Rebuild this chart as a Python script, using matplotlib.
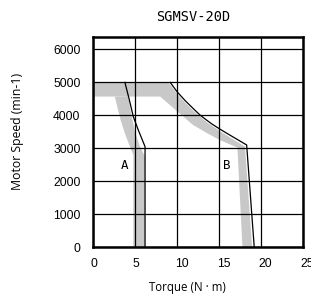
import matplotlib
matplotlib.use('Agg')
import matplotlib.pyplot as plt
from matplotlib.transforms import ScaledTranslation

# curve A (black line) and curve B (black line)
a_torque = [3.8, 4.3, 4.8, 5.4, 6.2, 6.2]
a_speed = [5000, 4500, 3960, 3550, 3050, 0]
b_torque = [9.2, 10.0, 11.0, 12.0, 12.74, 13.5, 14.2, 15.0, 16.0, 17.0, 18.3, 19.2]
b_speed = [5000, 4720, 4440, 4190, 4010, 3860, 3730, 3600, 3445, 3295, 3100, 0]

# gray bands (outline of each band)
band_b_torque = [0, 9.0, 10.0, 11.0, 12.0, 13.5, 15.0, 16.5, 18.1, 18.95,
                 17.8, 17.2, 15.1, 13.5, 11.9, 9.6, 8.0, 0]
band_b_speed = [5000, 5000, 4660, 4380, 4130, 3800, 3540, 3300, 3050, 0,
                0, 3020, 3250, 3470, 3710, 4215, 4570, 4570]
band_a_torque = [2.6, 2.9, 3.3, 3.8, 4.4, 4.8, 4.8, 6.2, 6.2, 5.6, 5.0, 4.5, 4.2]
band_a_speed = [4570, 4250, 3850, 3450, 3050, 2800, 0, 0, 2750, 3050, 3500, 4100, 4570]

x_ticks = [0, 5, 10, 15, 20, 25]
y_ticks = [0, 1000, 2000, 3000, 4000, 5000, 6000]

GRAY = '#c8c8c8'
TICK_FONT = ['Liberation Sans', 'DejaVu Sans']
LABEL_FONT = ['Open Sans', 'DejaVu Sans']
MONO_FONT = ['DejaVu Sans Mono']


def main():
    fig = plt.figure(figsize=(3.11, 2.98), dpi=100)
    ax = fig.add_axes([0.299, 0.171, 0.675, 0.705])

    ax.fill(band_b_torque, band_b_speed, color=GRAY, lw=0, zorder=1)
    ax.fill(band_a_torque, band_a_speed, color=GRAY, lw=0, zorder=1)

    ax.plot(a_torque, a_speed, color='black', lw=0.9, zorder=3)
    ax.plot(b_torque, b_speed, color='black', lw=0.9, zorder=3)

    ax.text(3.7, 2490, 'A', fontsize=9, ha='center', va='center', family=MONO_FONT)
    ax.text(15.9, 2490, 'B', fontsize=9, ha='center', va='center', family=MONO_FONT)

    ax.set_xlim(0, 25)
    ax.set_ylim(0, 6380)
    ax.set_xticks(x_ticks)
    ax.set_yticks(y_ticks)
    ax.grid(True, color='black', lw=0.9, zorder=2)
    ax.set_axisbelow(False)
    ax.tick_params(length=0, labelsize=8.7)
    ax.tick_params(axis='x', pad=8)
    ax.tick_params(axis='y', pad=9)
    offset = ScaledTranslation(-1.5 / 72, 0, fig.dpi_scale_trans)
    for lbl in ax.get_xticklabels():
        lbl.set_horizontalalignment('left')
        lbl.set_transform(lbl.get_transform() + offset)
    for lbl in ax.get_xticklabels() + ax.get_yticklabels():
        lbl.set_family(TICK_FONT)
    for s in ax.spines.values():
        s.set_linewidth(1.8)
        s.set_zorder(4)

    fig.text(187 / 311, 1 - 287 / 298, 'Torque (N · m)', fontsize=8.3,
             ha='center', va='center', family=LABEL_FONT)
    fig.text(18 / 311, 1 - 131 / 298, 'Motor Speed (min-1)', fontsize=8.8,
             ha='center', va='center', rotation=90, family=LABEL_FONT)
    fig.text(193 / 311, 1 - 17 / 298, 'SGMSV-20D', fontsize=9.8, ha='center',
             va='center', family=MONO_FONT)

    fig.savefig('out.png', dpi=100)


if __name__ == '__main__':
    main()
